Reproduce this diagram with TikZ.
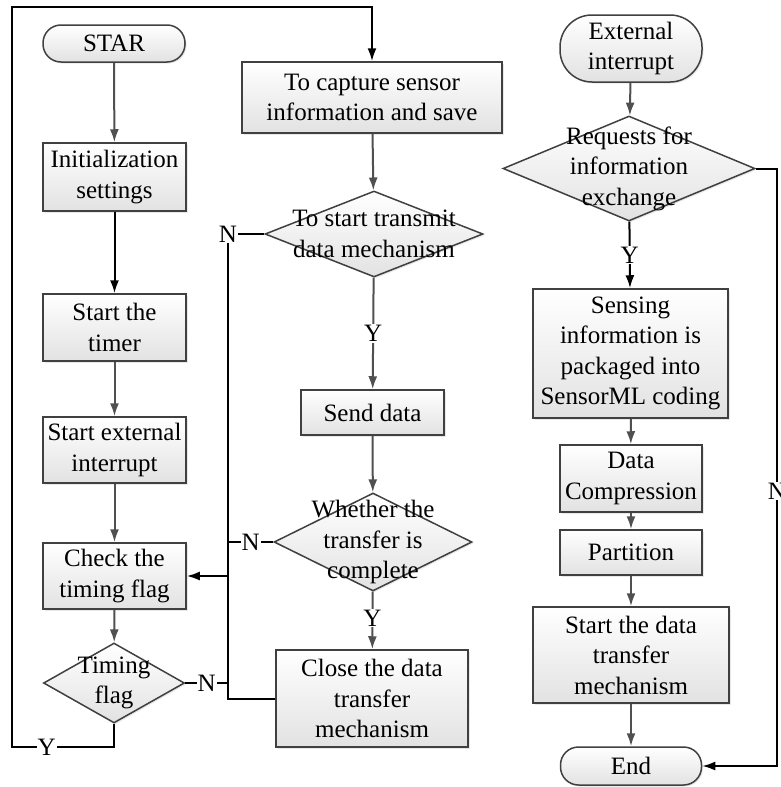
\documentclass[tikz,border=0pt]{standalone}
\usepackage{fontspec}
\setmainfont{Liberation Serif}
\usetikzlibrary{arrows.meta,shapes.geometric,shadows}

\definecolor{boxline}{RGB}{64,64,64}
\definecolor{boxfill}{RGB}{226,226,226}
\definecolor{flowline}{RGB}{80,80,80}
\newcommand{\flowfont}{\fontsize{25}{30.5}\selectfont}

\tikzset{
  every node/.style={font=\flowfont},
  shade/.style={top color=white, bottom color=boxfill,
    drop shadow={opacity=0.18, shadow xshift=1.5pt, shadow yshift=-1.5pt}},
  proc/.style={draw=boxline, line width=1.5pt, shade, align=center, inner sep=2pt},
  term/.style={proc, rounded corners=#1},
  decide/.style={diamond, draw=boxline, line width=1.5pt, shade, inner sep=0pt},
  flow/.style={draw=flowline, line width=2pt, -{Latex[length=13pt,width=9pt]}},
  jump/.style={draw=black, line width=2pt, -{Latex[length=13pt,width=9pt]}},
  bus/.style={draw=black, line width=2pt},
  lbl/.style={fill=white, inner sep=1pt},
}

\begin{document}
\begin{tikzpicture}[x=1pt, y=-1pt]
     \useasboundingbox (0,0) rectangle (781,787);

     % nodes: left column
     \node[term=18pt, minimum width=142pt, minimum height=37pt] (star) at (114,43.5) {STAR};%
     \node[proc, minimum width=143pt, minimum height=68pt] (init) at (114.5,177) {Initialization\\settings};%
     \node[proc, minimum width=143pt, minimum height=67pt] (timer) at (114.5,327.5) {Start the\\timer};%
     \node[proc, minimum width=143pt, minimum height=66pt] (extint) at (114.5,450) {Start external\\interrupt};%
     \node[proc, minimum width=143pt, minimum height=66pt] (check) at (114.5,576) {Check the\\timing flag};%
     \node[decide, minimum width=141pt, minimum height=80pt,
           label={[align=center]center:{Timing\\flag}}] (tflag) at (114,683) {};%

     % nodes: middle column
     \node[proc, minimum width=260pt, minimum height=71pt] (capture) at (372,97.5) {To capture sensor\\information and save};%
     \node[decide, minimum width=218pt, minimum height=86pt,
           label={[align=center]center:{To start transmit\\data mechanism}}] (transmit) at (374,234) {};%
     \node[proc, minimum width=143pt, minimum height=45pt] (send) at (372.5,412.5) {Send data};%
     \node[decide, minimum width=198pt, minimum height=98pt,
           label={[align=center]center:{Whether the\\transfer is\\complete}}] (whether) at (373,542) {};%
     \node[proc, minimum width=192pt, minimum height=97pt] (close) at (372,698.5) {Close the data\\transfer\\mechanism};%

     % nodes: right column
     \node[term=32pt, minimum width=142pt, minimum height=67pt] (ext) at (631,48.5) {External\\interrupt};%
     \node[decide, minimum width=252pt, minimum height=105pt,
           label={[align=center]center:{Requests for\\information\\exchange}}] (request) at (629,168.5) {};%
     \node[proc, minimum width=195pt, minimum height=129pt] (sensing) at (630.5,353.5) {Sensing\\information is\\packaged into\\SensorML coding};%
     \node[proc, minimum width=142pt, minimum height=67pt] (compress) at (631,478.5) {Data\\Compression};%
     \node[proc, minimum width=142pt, minimum height=45pt] (part) at (631,552.5) {Partition};%
     \node[proc, minimum width=196pt, minimum height=96pt] (startx) at (631,655) {Start the data\\transfer\\mechanism};%
     \node[term=18pt, minimum width=141pt, minimum height=38pt] (endn) at (631,766) {End};%

     % helper points
     \coordinate (ybottom) at (12,747);
     \coordinate (ytop) at (12,7);
     \coordinate (nbus) at (228,234);
     \coordinate (nright) at (777,168.5);

     % edges
     \draw[flow] (star) -- (init);
     \draw[jump] (init) -- (timer);
     \draw[flow] (timer) -- (extint);
     \draw[flow] (extint) -- (check);
     \draw[flow] (check) -- (tflag);
     \draw[jump] (tflag.south) |- node[lbl, pos=0.83] {Y} (ybottom) -- (ytop) -| (capture.north);

     \draw[flow] (capture) -- (transmit);
     \draw[flow] (transmit) -- node[lbl] {Y} (send);
     \draw[flow] (send) -- (whether);
     \draw[flow] (whether) -- node[lbl, pos=0.46] {Y} (close);

     \draw[bus] (transmit.west) -- (nbus) node[lbl] {N} |- (close.west);
     \draw[bus] (whether.west) -- node[lbl] {N} (whether.west -| nbus);
     \draw[bus] (tflag.east) -- node[lbl] {N} (tflag.east -| nbus);
     \draw[jump] (check.east -| nbus) -- (check.east);

     \draw[flow] (ext) -- (request);
     \draw[jump] (request) -- node[lbl] {Y} (sensing);
     \draw[flow] (sensing) -- (compress);
     \draw[flow] (compress) -- (part);
     \draw[flow] (part) -- (startx);
     \draw[flow] (startx) -- (endn);
     \draw[jump] (request.east) -- (nright) |- node[lbl, pos=0.27] {N} (endn.east);
\end{tikzpicture}
\end{document}
